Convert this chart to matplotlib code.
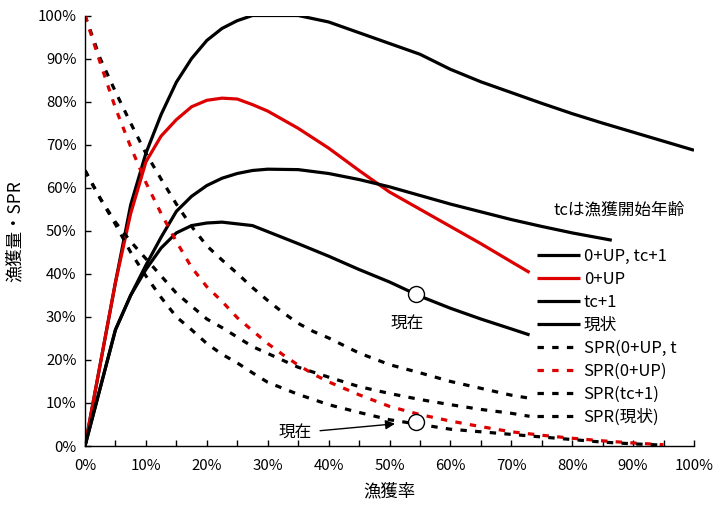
import numpy as np
import matplotlib
matplotlib.use("Agg")
import matplotlib.pyplot as plt

plt.rcParams['font.family'] = ['Noto Sans CJK JP', 'DejaVu Sans']

# ---- data (percent) ----
x_upTc = [0, 5, 7.5, 10, 12.5, 15, 17.5, 20, 22.5, 25, 27.5, 30, 35, 40, 45, 50, 55, 60, 65, 70, 75, 80, 85, 90, 95, 100]
y_upTc = [0, 38, 56, 68, 77, 84.5, 90, 94.2, 97, 98.8, 100, 100, 100, 98.5, 96, 93.5, 91, 87.5, 84.6, 82.1, 79.6, 77.2, 75, 72.9, 70.8, 68.7]

x_up = [0, 5, 7.5, 10, 12.5, 15, 17.5, 20, 22.5, 25, 27.5, 30, 35, 40, 45, 50, 55, 60, 65, 70, 73]
y_up = [0, 38, 54, 66, 72, 75.8, 78.8, 80.3, 80.8, 80.6, 79.3, 77.8, 73.8, 69.2, 64, 59, 55, 51, 47, 42.8, 40.3]

x_tc = [0, 5, 7.5, 10, 12.5, 15, 17.5, 20, 22.5, 25, 27.5, 30, 35, 40, 45, 50, 55, 60, 65, 70, 75, 80, 86.5]
y_tc = [0, 27, 35, 42, 48.5, 54.5, 58, 60.5, 62.2, 63.3, 64, 64.3, 64.2, 63.3, 61.9, 60.2, 58.2, 56.2, 54.4, 52.6, 51, 49.5, 47.8]

x_now = [0, 5, 7.5, 10, 12.5, 15, 17.5, 20, 22.5, 25, 27.5, 30, 35, 40, 45, 50, 55, 60, 65, 70, 73]
y_now = [0, 27, 35, 41, 46, 49.5, 51.2, 51.8, 52, 51.6, 51.2, 49.8, 47, 44.1, 41, 38.1, 34.8, 32, 29.5, 27.2, 25.8]

x_spr_upTc = [0, 2.5, 5, 7.5, 10, 12.5, 15, 17.5, 20, 22.5, 25, 27.5, 30, 32.5, 35, 37.5, 40, 45, 50, 55, 60, 65, 70, 73]
y_spr_upTc = [100, 90, 82.3, 75, 68, 62, 56.2, 51, 46.5, 43.2, 40.1, 36.8, 33.8, 31, 28.5, 26.6, 25.1, 21.6, 18.9, 17, 15, 13.4, 11.8, 11.1]

x_spr_up = [0, 2.5, 5, 7.5, 10, 12.5, 15, 17.5, 20, 22.5, 25, 27.5, 30, 32.5, 35, 37.5, 40, 45, 50, 55, 60, 65, 70, 75, 80, 85, 90, 95]
y_spr_up = [100, 89, 78.5, 69.5, 61.2, 54, 47.5, 41.5, 37, 33.6, 29.8, 26.8, 23.8, 21.2, 18.8, 16.7, 14.9, 11.9, 9.2, 7.3, 5.8, 4.5, 3.3, 2.5, 1.8, 1.2, 0.7, 0.3]

x_spr_tc = [0, 2.5, 5, 7.5, 10, 12.5, 15, 17.5, 20, 22.5, 25, 27.5, 30, 35, 40, 45, 50, 55, 60, 65, 70, 73]
y_spr_tc = [64, 57.5, 52, 47.5, 43.5, 39.5, 35.5, 32.5, 29.5, 27.5, 25.3, 23.1, 21.5, 18.3, 16, 13.8, 12.2, 10.8, 9.6, 8.5, 7.6, 6.9]

x_spr_now = [0, 2.5, 5, 7.5, 10, 12.5, 15, 17.5, 20, 22.5, 25, 27.5, 30, 35, 40, 45, 50, 55, 60, 65, 70, 75, 80, 85, 90, 95]
y_spr_now = [64, 57.5, 51.5, 45, 39.5, 34.5, 30, 27, 23.8, 21.3, 19.3, 17, 14.8, 12, 9.6, 7.8, 6.1, 5, 3.9, 3.3, 2.7, 2.1, 1.5, 0.9, 0.5, 0.2]

current_F = 54.3

labels = ["0+UP, tc+1", "0+UP", "tc+1", "現状",
          "SPR(0+UP, t", "SPR(0+UP)", "SPR(tc+1)", "SPR(現状)"]
legend_title = "tcは漁獲開始年齢"
xlabel = "漁獲率"
ylabel = "漁獲量・SPR"
now_label = "現在"

BLACK = "#000000"
RED = "#dd0000"

fig = plt.figure(figsize=(7.23, 5.08), dpi=100)
ax = fig.add_axes([85/723, 1-446/508, 609/723, 430.5/508])

lw = 2.3
dash = (0, (2.0, 2.6))
l1, = ax.plot(x_upTc, y_upTc, color=BLACK, lw=lw, solid_capstyle='butt')
l2, = ax.plot(x_up, y_up, color=RED, lw=lw, solid_capstyle='butt')
l3, = ax.plot(x_tc, y_tc, color=BLACK, lw=lw, solid_capstyle='butt')
l4, = ax.plot(x_now, y_now, color=BLACK, lw=lw, solid_capstyle='butt')
l5, = ax.plot(x_spr_upTc, y_spr_upTc, color=BLACK, lw=lw, linestyle=dash)
l6, = ax.plot(x_spr_up, y_spr_up, color=RED, lw=lw, linestyle=dash)
l7, = ax.plot(x_spr_tc, y_spr_tc, color=BLACK, lw=lw, linestyle=dash)
l8, = ax.plot(x_spr_now, y_spr_now, color=BLACK, lw=lw, linestyle=dash)

# current markers
y_c1 = np.interp(current_F, x_now, y_now)
y_c2 = np.interp(current_F, x_spr_now, y_spr_now) + 0.4
ax.plot([current_F], [y_c1], marker='o', ms=11.5, mfc='white', mec=BLACK, mew=1.0, zorder=5)
ax.plot([current_F], [y_c2], marker='o', ms=11.5, mfc='white', mec=BLACK, mew=1.0, zorder=5)
ax.annotate(now_label, xy=(current_F, y_c1), xytext=(-6, -21), textcoords='offset points',
            ha='center', va='center', fontsize=12)
ax.annotate(now_label, xy=(current_F, y_c2), xytext=(-87, -7), textcoords='offset points',
            ha='center', va='center', fontsize=12)
ax.annotate("", xy=(current_F - 3.4, y_c2 - 0.4), xytext=(current_F - 15.7, y_c2 - 2.0),
            arrowprops=dict(arrowstyle='-|>', color=BLACK, lw=1.0, mutation_scale=14,
                            shrinkA=0, shrinkB=0))

ax.set_xlim(0, 100)
ax.set_ylim(0, 100)
ax.set_xticks(np.arange(0, 101, 10))
ax.set_xticks(np.arange(0, 101, 5), minor=True)
ax.set_yticks(np.arange(0, 101, 10))
ax.set_xticklabels([f"{v}%" for v in range(0, 101, 10)])
ax.set_yticklabels([f"{v}%" for v in range(0, 101, 10)])
ax.tick_params(axis='both', which='both', direction='in', length=4, width=1, labelsize=10.8, colors=BLACK)
ax.tick_params(axis='x', which='minor', length=4)
ax.tick_params(axis='x', pad=9)
ax.tick_params(axis='y', pad=6)
for s in ['top', 'right']:
    ax.spines[s].set_visible(False)
for s in ['left', 'bottom']:
    ax.spines[s].set_linewidth(1.0)
    ax.spines[s].set_color(BLACK)

ax.set_xlabel(xlabel, fontsize=12.5, labelpad=7)
ax.set_ylabel(ylabel, fontsize=12.5, labelpad=10)

ax.text(0.877, 0.548, legend_title, transform=ax.transAxes, ha='center', va='center', fontsize=12)
leg = ax.legend([l1, l2, l3, l4, l5, l6, l7, l8], labels,
                loc='upper left', bbox_to_anchor=((537-85)/609, (446-248)/430.5),
                frameon=False, borderpad=0, borderaxespad=0, handlelength=2.6,
                handletextpad=0.2, labelspacing=0.36, fontsize=12)

fig.savefig("out.png", dpi=100)
